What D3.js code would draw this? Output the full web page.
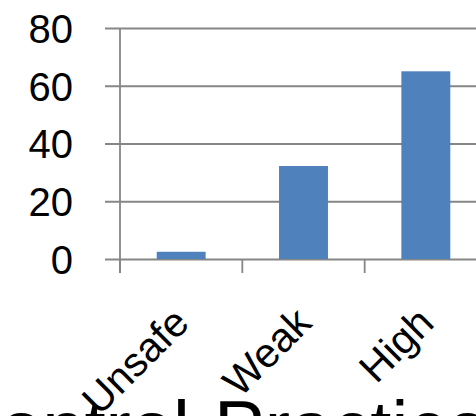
<!DOCTYPE html>
<html>
<head>
<meta charset="utf-8">
<style>
  body { margin: 0; background: #fff; }
  svg { display: block; font-family: 'Liberation Sans', Arial, sans-serif; }
</style>
</head>
<body>
<svg width="476" height="416"></svg>
<script src="https://d3js.org/d3.v7.min.js"></script>
<script>
  // values
  let categories = ["Unsafe", "Weak", "High"]
  let values = [2.5, 32.2, 65]
  let yTicks = [0, 20, 40, 60, 80]

  let svg = d3.select("svg")

  // plot box: x axis runs off the right edge like in the picture
  let plotLeft = 120, plotRight = 487, plotTop = 28, plotBottom = 259

  let x = d3.scaleBand()
    .domain(categories)
    .range([plotLeft, plotRight])
    .paddingInner(0.6)
    .paddingOuter(0.3)

  let y = d3.scaleLinear()
    .domain([0, 80])
    .range([plotBottom, plotTop])

  let grey = "#868686"

  // gridlines + y labels
  let yAxis = d3.axisLeft(y)
    .tickValues(yTicks)
    .tickSize(-(476 - plotLeft))
    .tickSizeOuter(0)
    .tickPadding(0)

  let gy = svg.append("g")
    .attr("transform", `translate(${plotLeft},0)`)
    .call(yAxis)

  gy.select(".domain").remove()
  gy.selectAll(".tick line")
    .attr("x1", -15)
    .attr("stroke", grey)
    .attr("stroke-width", 1.8)
  gy.selectAll(".tick text")
    .attr("x", -47)
    .attr("dy", "0.36em")
    .style("font-size", "40px")
    .style("fill", "#000")

  // bars
  svg.selectAll(".bar")
    .data(values)
    .join("rect")
    .attr("class", "bar")
    .attr("x", (d, i) => x(categories[i]))
    .attr("width", x.bandwidth())
    .attr("y", d => y(d))
    .attr("height", d => y(0) - y(d))
    .style("fill", "#4F81BD")

  // vertical axis line
  svg.append("line")
    .attr("x1", plotLeft).attr("x2", plotLeft)
    .attr("y1", plotTop).attr("y2", plotBottom + 14)
    .attr("stroke", grey)
    .attr("stroke-width", 1.8)

  // ticks between categories
  let step = x.step()
  let bounds = d3.range(categories.length + 1).map(i => plotLeft + i * step)
  svg.selectAll(".xtick")
    .data(bounds)
    .join("line")
    .attr("class", "xtick")
    .attr("x1", d => d).attr("x2", d => d)
    .attr("y1", plotBottom).attr("y2", plotBottom + 14)
    .attr("stroke", grey)
    .attr("stroke-width", 1.8)

  // category labels, rotated
  svg.selectAll(".xlab")
    .data(categories)
    .join("text")
    .attr("class", "xlab")
    .attr("text-anchor", "end")
    .attr("transform", d => `translate(${x(d) + x.bandwidth() / 2 + 10},${plotBottom + 66}) rotate(-45)`)
    .style("font-size", "41px")
    .text(d => d)

  // axis title, cut off at the bottom edge
  svg.append("text")
    .attr("x", 190)
    .attr("y", 454)
    .attr("text-anchor", "end")
    .style("font-size", "76px")
    .text("Infection Control")
  svg.append("text")
    .attr("x", 214)
    .attr("y", 454)
    .style("font-size", "76px")
    .text("Practices")
</script>
</body>
</html>
